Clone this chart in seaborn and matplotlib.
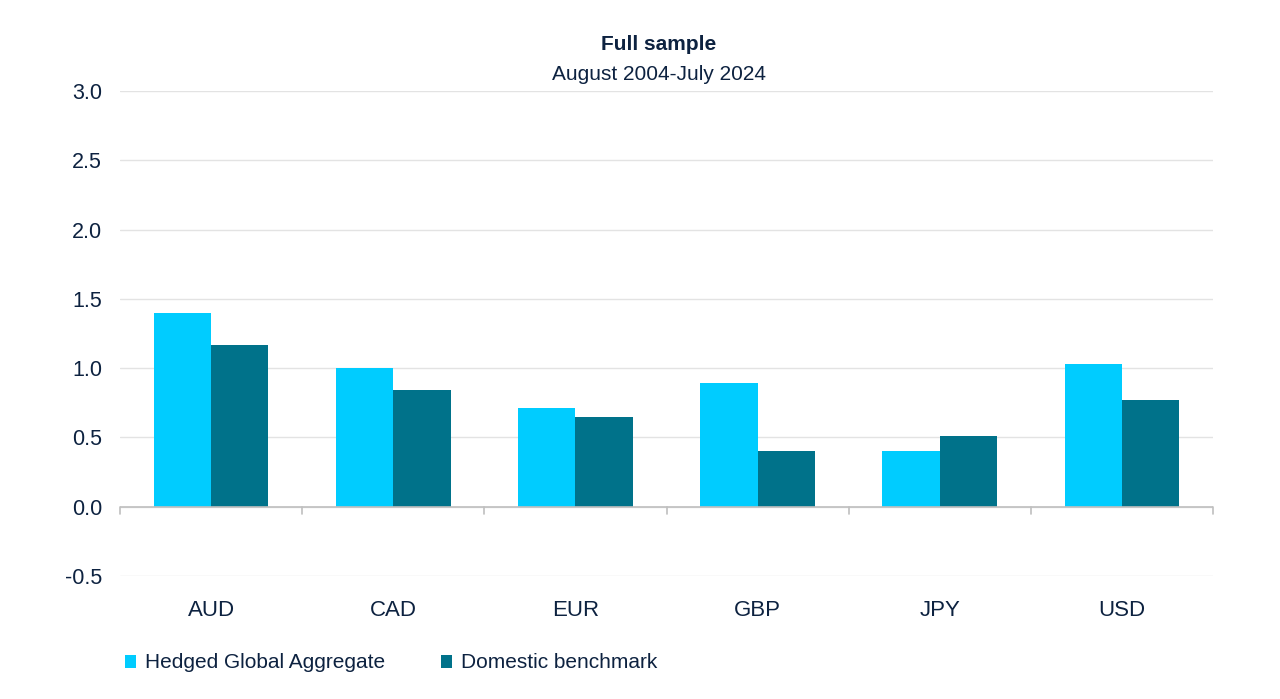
import matplotlib
matplotlib.use("Agg")
import matplotlib.pyplot as plt
import seaborn as sns
import pandas as pd
from matplotlib.patches import Patch
from matplotlib import font_manager

categories = ["AUD", "CAD", "EUR", "GBP", "JPY", "USD"]
series_names = ["Hedged Global Aggregate", "Domestic benchmark"]
hedged = [1.40, 1.00, 0.71, 0.89, 0.40, 1.03]
domestic = [1.17, 0.84, 0.65, 0.40, 0.51, 0.77]
y_ticks = [-0.5, 0.0, 0.5, 1.0, 1.5, 2.0, 2.5, 3.0]
title = "Full sample"
subtitle = "August 2004-July 2024"

colors = ["#00CCFF", "#00728A"]
text_color = "#0D2240"

sns.set_theme(style="white")
avail = {f.name for f in font_manager.fontManager.ttflist}
fam = ["Liberation Sans Narrow", "Liberation Sans", "DejaVu Sans"]
fam = [f for f in fam if f in avail] or ["DejaVu Sans"]
plt.rcParams["font.family"] = fam

df = pd.DataFrame({
    "cat": categories * 2,
    "series": [series_names[0]] * len(categories) + [series_names[1]] * len(categories),
    "value": hedged + domestic,
})

fig = plt.figure(figsize=(12.8, 6.99), dpi=100)
ax = fig.add_axes([120 / 1280, 1 - 576 / 699, (1213 - 120) / 1280, (576 - 91) / 699])

sns.barplot(data=df, x="cat", y="value", hue="series", order=categories,
            hue_order=series_names, palette=colors, width=0.63,
            saturation=1, ax=ax, legend=False, edgecolor="none")

ax.set_ylim(-0.5, 3.0)
ax.set_xlim(-0.5, len(categories) - 0.5)
ax.set_yticks(y_ticks)
ax.set_yticklabels([f"{v:.1f}" for v in y_ticks], fontsize=15.5, color=text_color)
ax.grid(axis="y", color="#E3E3E3", linewidth=1)
ax.set_axisbelow(True)
for s in ax.spines.values():
    s.set_visible(False)
ax.tick_params(axis="y", length=0, pad=13)
ax.tick_params(axis="x", length=0, pad=17)
ax.set_xticks(range(len(categories)))
ax.set_xticklabels(categories, fontsize=16, color=text_color)
ax.set_xlabel("")
ax.set_ylabel("")

# zero axis line with category separators
ax.axhline(0, color="#BFBFBF", linewidth=1.2, zorder=3)
for b in [i - 0.5 for i in range(len(categories) + 1)]:
    ax.plot([b, b], [0, -0.055], color="#BFBFBF", linewidth=1.2, zorder=3, clip_on=False)

fig.text(659 / 1280, 1 - 44 / 699, title, ha="center", va="center",
         fontsize=15, fontweight="bold", color=text_color)
fig.text(659 / 1280, 1 - 74 / 699, subtitle, ha="center", va="center",
         fontsize=15, color=text_color)

handles = [Patch(facecolor=c, edgecolor="none") for c in colors]
fig.legend(handles, series_names, loc="center left",
           bbox_to_anchor=(106 / 1280, 1 - 663 / 699), ncol=2, frameon=False,
           fontsize=15, handlelength=0.55, handleheight=0.6, handletextpad=0.4,
           columnspacing=2.7, labelcolor=text_color)

fig.savefig("out.png", dpi=100)
